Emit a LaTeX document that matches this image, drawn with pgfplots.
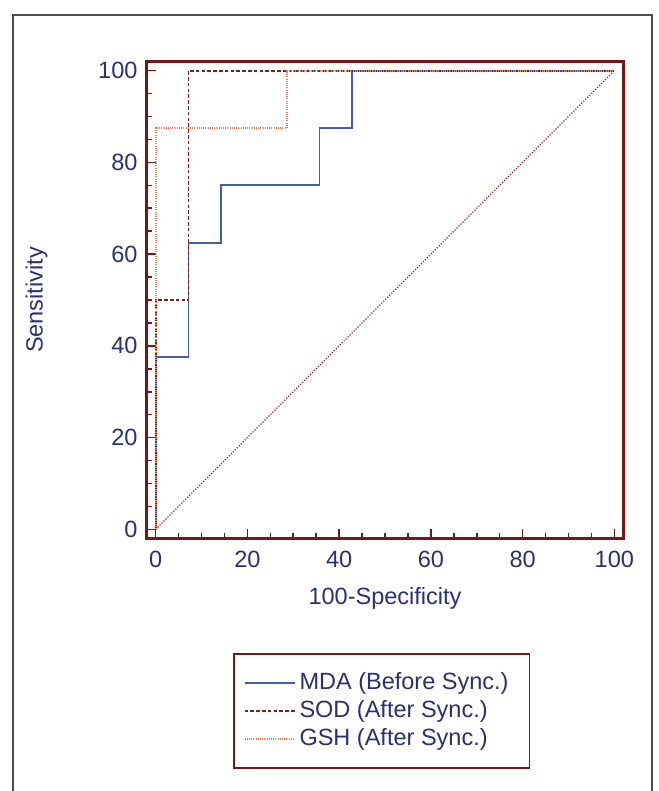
\documentclass[border=0pt]{standalone}
\usepackage{fontspec}
\setmainfont{Liberation Sans}
\usepackage{pgfplots}
\pgfplotsset{compat=1.18}

\definecolor{maroon}{RGB}{118,22,22}
\definecolor{navy}{RGB}{42,48,118}
\definecolor{mdablue}{RGB}{70,92,176}
\definecolor{soddark}{RGB}{125,30,30}
\definecolor{gshorange}{RGB}{240,125,90}
\definecolor{diagred}{RGB}{140,40,40}

\begin{document}
\begin{tikzpicture}
% page size (659 x 791 px at 0.5bp per px)
\path[use as bounding box] (0bp,0bp) rectangle (329.5bp,395.5bp);
% outer figure frame
\draw[gray!60!black, line width=0.8bp] (6.5bp,-2bp) -- (6.5bp,388bp) -- (326bp,388bp) -- (326bp,-2bp);

\begin{axis}[
    at={(73.25bp,126.25bp)}, anchor=south west,
    scale only axis,
    width=238.5bp, height=238.5bp,
    xmin=-2, xmax=102, ymin=-2, ymax=102,
    xtick={0,20,...,100}, ytick={0,20,...,100},
    minor tick num=3,
    tick align=inside,
    xtick pos=lower, ytick pos=left,
    major tick length=4.5bp, minor tick length=2.8bp,
    axis line style={maroon, line width=1.6bp},
    every tick/.style={maroon, line width=0.8bp},
    tick label style={font=\fontsize{11.8}{14}\selectfont, text=navy},
    xticklabel style={yshift=-3bp},
    yticklabel style={xshift=-1bp},
    /pgf/number format/assume math mode=true,
    xlabel={100-Specificity}, ylabel={Sensitivity},
    label style={font=\fontsize{11.8}{14}\selectfont, text=navy},
    xlabel style={yshift=-3bp},
    ylabel style={yshift=18.5bp},
    legend cell align=left,
    legend image code/.code={%
        \draw[#1] (0bp,0bp) -- (22.5bp,0bp);
        \path (0bp,0bp) -- (25bp,0bp);},
    legend style={
        at={(0.181,-0.24)}, anchor=north west,
        draw=maroon, line width=0.9bp,
        font=\fontsize{11.8}{14}\selectfont,
        text=navy,
        inner xsep=5bp, inner ysep=7.5bp,
        row sep=0bp,
    },
]

% reference diagonal
\addplot[diagred, line width=0.6bp, dash pattern=on 0.6bp off 0.8bp, forget plot]
    coordinates {(0,0) (100,100)};

% MDA (Before Sync.)
\addplot[mdablue, line width=0.9bp] coordinates {
    (0,0) (0,37.5) (7.14,37.5) (7.14,62.5) (14.29,62.5) (14.29,75)
    (35.71,75) (35.71,87.5) (42.86,87.5) (42.86,100) (100,100)
};
\addlegendentry{\makebox[108bp][l]{MDA (Before Sync.)}}

% SOD (After Sync.)
\addplot[soddark, line width=0.9bp, dash pattern=on 1.8bp off 1.1bp] coordinates {
    (0,0) (0,50) (7.14,50) (7.14,100) (100,100)
};
\addlegendentry{SOD (After Sync.)}

% GSH (After Sync.)
\addplot[gshorange, line width=0.9bp, dash pattern=on 0.5bp off 0.6bp] coordinates {
    (0,0) (0,87.5) (28.57,87.5) (28.57,100) (100,100)
};
\addlegendentry{GSH (After Sync.)}

\end{axis}
\end{tikzpicture}
\end{document}
